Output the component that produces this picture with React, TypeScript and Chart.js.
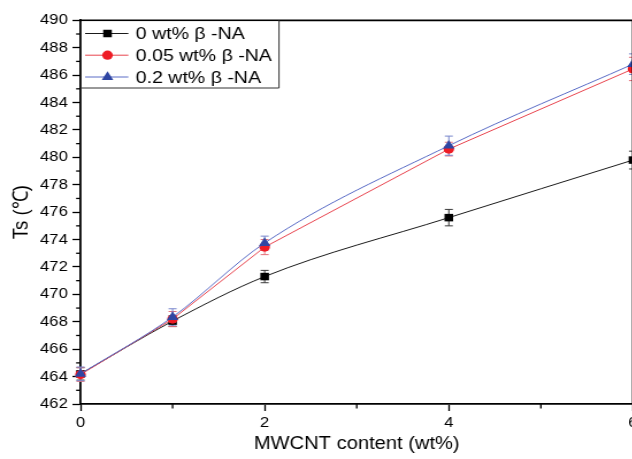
import React, { useEffect, useRef } from 'react';
import { Chart, registerables } from 'chart.js';

Chart.register(...registerables);

// ---- data ----
const xValues = [0, 1, 2, 4, 6];
const seriesLabels = ['0 wt% β -NA', '0.05 wt% β -NA', '0.2 wt% β -NA'];
const ts0 = [464.2, 468.05, 471.3, 475.6, 479.8];
const ts005 = [464.15, 468.2, 473.45, 480.6, 486.45];
const ts02 = [464.2, 468.35, 473.75, 480.85, 486.8];
const err0 = [0.45, 0.4, 0.45, 0.6, 0.65];
const err005 = [0.5, 0.55, 0.55, 0.5, 0.85];
const err02 = [0.5, 0.6, 0.5, 0.7, 0.75];
const xMinorTicks = [1, 3, 5];
const yMinorTicks = [463, 465, 467, 469, 471, 473, 475, 477, 479, 481, 483, 485, 487, 489];
const xTitle = 'MWCNT content (wt%)';
const yTitle = 'Ts (℃)';

// ---- styles ----
const STRETCH = 1.15;
const CANVAS_W = 600;
const CANVAS_H = 459;
const FONT = "'Liberation Sans', Arial, Helvetica, sans-serif";
const lineColors = ['#1a1a1a', '#e8444e', '#5a6cc6'];
const markerColors = ['#000000', '#ee1c25', '#2f46a3'];
const errColors = ['#3a3a3a', '#e4707a', '#7886cc'];
const pointStyles = ['rect', 'circle', 'triangle'];
const pointRadii = [5.3, 4.6, 5.8];

const seriesValues = [ts0, ts005, ts02];
const seriesErrors = [err0, err005, err02];

function drawMarker(ctx: CanvasRenderingContext2D, style: string, x: number, y: number, r: number, color: string) {
  ctx.save();
  ctx.fillStyle = color;
  ctx.beginPath();
  if (style === 'rect') {
    const s = Math.SQRT1_2 * r;
    ctx.rect(x - s, y - s, 2 * s, 2 * s);
  } else if (style === 'circle') {
    ctx.arc(x, y, r, 0, Math.PI * 2);
  } else {
    ctx.moveTo(x, y - r);
    ctx.lineTo(x + r * Math.cos(Math.PI / 6), y + r * 0.5);
    ctx.lineTo(x - r * Math.cos(Math.PI / 6), y + r * 0.5);
    ctx.closePath();
  }
  ctx.fill();
  ctx.restore();
}

const errorBarPlugin = {
  id: 'errorBars',
  beforeDatasetsDraw(chart: any) {
    const { ctx } = chart;
    const xs = chart.scales.x;
    const ys = chart.scales.y;
    const cap = 3.5;
    ctx.save();
    ctx.lineWidth = 1;
    seriesValues.forEach((vals, d) => {
      ctx.strokeStyle = errColors[d];
      vals.forEach((v, i) => {
        const px = xs.getPixelForValue(xValues[i]);
        const top = ys.getPixelForValue(v + seriesErrors[d][i]);
        const bot = ys.getPixelForValue(v - seriesErrors[d][i]);
        ctx.beginPath();
        ctx.moveTo(px, top);
        ctx.lineTo(px, bot);
        ctx.moveTo(px - cap, top);
        ctx.lineTo(px + cap, top);
        ctx.moveTo(px - cap, bot);
        ctx.lineTo(px + cap, bot);
        ctx.stroke();
      });
    });
    ctx.restore();
  },
};

const framePlugin = {
  id: 'frameAndLegend',
  afterDraw(chart: any) {
    const { ctx, chartArea } = chart;
    const xs = chart.scales.x;
    const ys = chart.scales.y;
    ctx.save();
    // minor ticks
    ctx.strokeStyle = '#000';
    ctx.lineWidth = 1.3;
    yMinorTicks.forEach((v) => {
      const py = ys.getPixelForValue(v);
      ctx.beginPath();
      ctx.moveTo(chartArea.left - 3.8, py);
      ctx.lineTo(chartArea.left, py);
      ctx.stroke();
    });
    xMinorTicks.forEach((v) => {
      const px = xs.getPixelForValue(v);
      ctx.beginPath();
      ctx.moveTo(px, chartArea.bottom);
      ctx.lineTo(px, chartArea.bottom + 4.5);
      ctx.stroke();
    });
    // top & right frame
    ctx.lineWidth = 1.8;
    ctx.beginPath();
    ctx.moveTo(chartArea.left, chartArea.top);
    ctx.lineTo(chartArea.right, chartArea.top);
    ctx.lineTo(chartArea.right, chartArea.bottom);
    ctx.stroke();

    // legend box
    const bx = chartArea.left;
    const by = chartArea.top;
    const bw = 242.6 - chartArea.left;
    const bh = 88 - chartArea.top;
    ctx.fillStyle = '#ffffff';
    ctx.fillRect(bx + 1, by + 1, bw - 1, bh - 1);
    ctx.strokeStyle = '#333';
    ctx.lineWidth = 1;
    ctx.beginPath();
    ctx.moveTo(bx, by + bh);
    ctx.lineTo(bx + bw, by + bh);
    ctx.lineTo(bx + bw, by);
    ctx.stroke();
    const rows = [33.5, 55.2, 77];
    ctx.font = `17px ${FONT}`;
    ctx.textBaseline = 'middle';
    ctx.textAlign = 'left';
    seriesLabels.forEach((lab, k) => {
      const ry = rows[k];
      ctx.strokeStyle = lineColors[k];
      ctx.lineWidth = 1;
      ctx.beginPath();
      ctx.moveTo(74, ry);
      ctx.lineTo(111.6, ry);
      ctx.stroke();
      drawMarker(ctx, pointStyles[k], 93.5, ry, pointRadii[k], markerColors[k]);
      ctx.fillStyle = '#000';
      ctx.fillText(lab, 118, ry + 1);
    });
    ctx.restore();
  },
};

export default function App() {
  const ref = useRef<HTMLCanvasElement | null>(null);

  useEffect(() => {
    if (!ref.current) return;
    const datasets = seriesValues.map((vals, d) => ({
      label: seriesLabels[d],
      data: vals.map((v, i) => ({ x: xValues[i], y: v })),
      showLine: true,
      borderColor: lineColors[d],
      borderWidth: 1,
      backgroundColor: markerColors[d],
      pointBackgroundColor: markerColors[d],
      pointBorderColor: markerColors[d],
      pointBorderWidth: 0,
      pointStyle: pointStyles[d],
      pointRadius: pointRadii[d],
      cubicInterpolationMode: d === 1 ? 'default' : 'monotone',
      tension: d === 1 ? 0 : 0.4,
      order: 3 - d,
      clip: false,
    }));

    const chart = new Chart(ref.current, {
      type: 'line',
      data: { datasets } as any,
      options: {
        responsive: false,
        animation: false,
        devicePixelRatio: 1,
        layout: { padding: { left: 0, right: 49.6, top: 20.3, bottom: 0 } },
        plugins: { legend: { display: false }, tooltip: { enabled: false } },
        scales: {
          x: {
            type: 'linear',
            min: 0,
            max: 6,
            ticks: {
              stepSize: 2,
              color: '#000',
              font: { size: 14.5, family: FONT },
              padding: 3,
              maxRotation: 0,
              autoSkip: false,
            },
            grid: { drawOnChartArea: false, drawTicks: true, tickLength: 7, tickColor: '#000', tickWidth: 1.3 },
            border: { display: true, color: '#000', width: 1.8 },
            title: {
              display: true,
              text: xTitle,
              color: '#000',
              font: { size: 17.5, family: FONT },
              padding: { top: 0, bottom: 4.5 },
            },
            afterFit: (s: any) => {
              s.height = 55;
            },
          },
          y: {
            type: 'linear',
            min: 462,
            max: 490,
            ticks: {
              stepSize: 2,
              color: '#000',
              font: { size: 14.5, family: FONT },
              padding: 4,
            },
            grid: { drawOnChartArea: false, drawTicks: true, tickLength: 7, tickColor: '#000', tickWidth: 1.3 },
            border: { display: true, color: '#000', width: 1.8 },
            title: {
              display: true,
              text: yTitle,
              color: '#000',
              font: { size: 18.5, family: FONT },
              padding: { top: 8, bottom: 0 },
            },
            afterFit: (s: any) => {
              s.width = 70;
            },
          },
        },
      } as any,
      plugins: [errorBarPlugin, framePlugin],
    });
    return () => chart.destroy();
  }, []);

  return (
    <div
      style={{
        position: 'fixed',
        left: 0,
        top: 0,
        width: 632,
        height: 459,
        overflow: 'hidden',
        background: '#ffffff',
      }}
    >
      <canvas
        ref={ref}
        width={CANVAS_W}
        height={CANVAS_H}
        style={{ display: 'block', width: `${CANVAS_W * STRETCH}px`, height: `${CANVAS_H}px` }}
      />
    </div>
  );
}
